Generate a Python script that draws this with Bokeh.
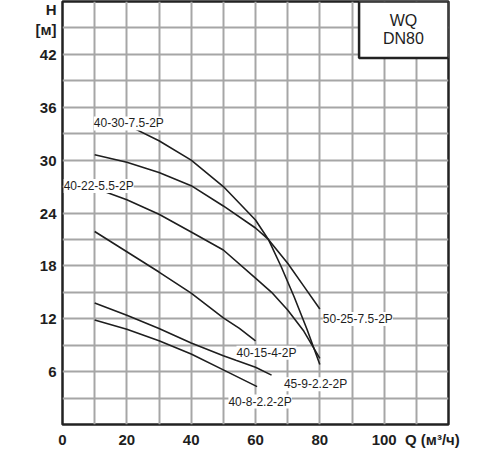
from bokeh.plotting import figure
from bokeh.models import Label, BoxAnnotation, FixedTicker, SingleIntervalTicker, Range1d
from bokeh.embed import file_html
from bokeh.resources import INLINE

# Q-H curves, Q in m3/h, H in m
q_40_30 = [20, 30, 40, 50, 60, 64, 68, 72, 76, 80]
h_40_30 = [34.0, 32.2, 30.0, 27.0, 23.2, 21.0, 17.9, 14.5, 10.8, 6.8]
q_50_25 = [10, 20, 30, 40, 50, 60, 64, 70, 75, 80]
h_50_25 = [30.6, 29.75, 28.6, 27.1, 24.8, 22.3, 21.0, 18.3, 15.7, 13.1]
q_40_22 = [10, 20, 30, 40, 50, 60, 65, 70, 75, 80]
h_40_22 = [26.85, 25.5, 23.85, 21.85, 19.8, 16.6, 15.0, 13.0, 10.6, 7.5]
q_40_15 = [10, 20, 30, 40, 50, 55, 60]
h_40_15 = [21.9, 19.6, 17.3, 14.9, 12.1, 10.9, 9.5]
q_45_9 = [10, 20, 30, 40, 50, 60, 65]
h_45_9 = [13.8, 12.4, 10.9, 9.25, 7.8, 6.5, 5.6]
q_40_8 = [10, 20, 30, 40, 50, 60.5]
h_40_8 = [11.85, 10.8, 9.5, 8.0, 6.2, 4.3]

names = ["40-30-7.5-2P", "50-25-7.5-2P", "40-22-5.5-2P",
         "40-15-4-2P", "45-9-2.2-2P", "40-8-2.2-2P"]
qs = [q_40_30, q_50_25, q_40_22, q_40_15, q_45_9, q_40_8]
hs = [h_40_30, h_50_25, h_40_22, h_40_15, h_45_9, h_40_8]

x_ticks = [0, 20, 40, 60, 80, 100]
y_ticks = [6, 12, 18, 24, 30, 36, 42]
q_title = "Q (м³/ч)"
h_title = "H\n[м]"
series_title = ["WQ", "DN80"]

# where each curve name sits: (which end, align, dx, dy) in pixels
label_style = {
    "40-30-7.5-2P": (0, "center", 2, 1.5),
    "40-22-5.5-2P": (0, "center", 4, 2),
    "50-25-7.5-2P": (-1, "left", 3, -10),
    "40-15-4-2P": (-1, "center", 11, -12),
    "45-9-2.2-2P": (-1, "center", 44, -9),
    "40-8-2.2-2P": (-1, "center", 3, -15),
}

FONT = "Liberation Sans"
INK = "#1e1e1e"
GRID = "#a6a6a6"
X_MAX, Y_MAX = 120, 48

p = figure(width=500, height=450, x_range=Range1d(0, X_MAX), y_range=Range1d(0, Y_MAX),
           output_backend="svg", toolbar_location=None,
           min_border_left=62, min_border_right=52, min_border_top=1, min_border_bottom=23)
p.outline_line_color = "#222222"
p.outline_line_width = 2.5

# grid every 10 m3/h and every 3 m
p.xgrid.ticker = SingleIntervalTicker(interval=10)
p.ygrid.ticker = SingleIntervalTicker(interval=3)
p.grid.grid_line_color = GRID
p.grid.grid_line_width = 2
p.grid.grid_line_alpha = 1.0

q_pos = 115
h_pos = 46.4
p.xaxis.ticker = FixedTicker(ticks=x_ticks + [q_pos])
p.xaxis.major_label_overrides = {q_pos: q_title}
p.yaxis.ticker = FixedTicker(ticks=y_ticks + [h_pos])
p.yaxis.major_label_overrides = {h_pos: h_title}
for ax in (p.xaxis, p.yaxis):
    ax.axis_line_color = None
    ax.major_tick_line_color = None
    ax.minor_tick_line_color = None
    ax.major_tick_out = 0
    ax.major_tick_in = 0
    ax.minor_tick_out = 0
    ax.major_label_text_font = FONT
    ax.major_label_text_font_size = "15px"
    ax.major_label_text_font_style = "bold"
    ax.major_label_text_color = INK
p.xaxis.major_label_standoff = 6
p.yaxis.major_label_standoff = 6

for name, q, h in zip(names, qs, hs):
    p.line(q, h, line_color=INK, line_width=1.6)
    end, align, dx, dy = label_style[name]
    p.add_layout(Label(x=q[end], y=h[end], text=name, text_align=align,
                       text_baseline="alphabetic", x_offset=dx, y_offset=dy,
                       text_font=FONT, text_font_size="12px", text_color=INK,
                       background_fill_color="white", background_fill_alpha=1.0))

# series box in the upper right corner
p.add_layout(BoxAnnotation(left=92.2, right=X_MAX, bottom=41.6, top=Y_MAX,
                           fill_color="white", fill_alpha=1.0,
                           line_color="#222222", line_width=2.5, line_alpha=1.0))
for txt, yy in zip(series_title, [45.8, 43.8]):
    p.add_layout(Label(x=106, y=yy, text=txt, text_align="center", text_baseline="middle",
                       text_font=FONT, text_font_size="16px", text_color=INK))

open("out.html", "w").write(file_html(p, INLINE))
